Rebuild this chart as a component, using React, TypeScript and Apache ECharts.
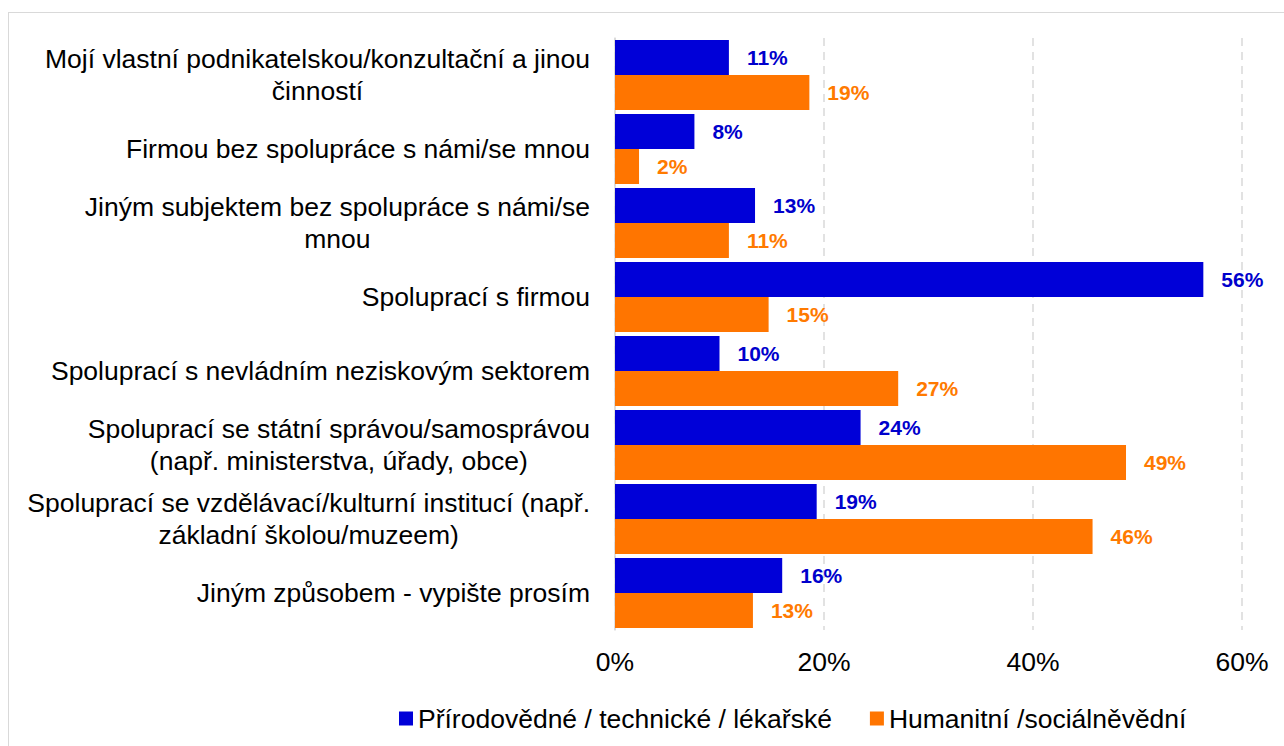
import React, { useEffect, useRef } from "react";
import * as echarts from "echarts";

const categories = [
  "Mojí vlastní podnikatelskou/konzultační a jinou\nčinností",
  "Firmou bez spolupráce s námi/se mnou",
  "Jiným subjektem bez spolupráce s námi/se\nmnou",
  "Spoluprací s firmou",
  "Spoluprací s nevládním neziskovým sektorem",
  "Spoluprací se státní správou/samosprávou\n(např. ministerstva, úřady, obce)",
  "Spoluprací se vzdělávací/kulturní institucí (např.\nzákladní školou/muzeem)",
  "Jiným způsobem - vypište prosím",
];

const seriesNames = [
  "Přírodovědné / technické / lékařské",
  "Humanitní /sociálněvědní",
];

const naturalValues = [10.9, 7.6, 13.4, 56.3, 10.0, 23.5, 19.3, 16.0];
const humanitiesValues = [18.6, 2.3, 10.9, 14.7, 27.1, 48.9, 45.7, 13.2];

const xTicks = { min: 0, max: 60, interval: 20 };

const BLUE = "#0000d8";
const ORANGE = "#ff7500";
const FONT = "'Liberation Sans', Arial, sans-serif";

export default function App() {
  const ref = useRef<HTMLDivElement>(null);

  useEffect(() => {
    document.body.style.overflow = "hidden";
    const chart = echarts.init(ref.current!, null, { renderer: "svg" });
    chart.setOption({
      animation: false,
      textStyle: { fontFamily: FONT },
      grid: { left: 615, right: 42, top: 38, bottom: 116, containLabel: false },
      legend: {
        left: 394,
        top: 700,
        itemWidth: 14,
        itemHeight: 14,
        itemGap: 38,
        icon: "rect",
        textStyle: { fontSize: 26.5, color: "#000", fontFamily: FONT },
        data: seriesNames,
      },
      xAxis: {
        type: "value",
        min: xTicks.min,
        max: xTicks.max,
        interval: xTicks.interval,
        axisLine: { show: false },
        axisTick: { show: false },
        axisLabel: {
          formatter: "{value}%",
          fontSize: 26.5,
          color: "#000",
          margin: 18,
          fontFamily: FONT,
        },
        splitLine: {
          show: true,
          lineStyle: { color: "#d9d9d9", width: 1.5, type: [8, 6] },
        },
      },
      yAxis: {
        type: "category",
        inverse: true,
        data: categories,
        axisLine: { show: true, lineStyle: { color: "#d9d9d9", width: 1.5 } },
        axisTick: { show: false },
        axisLabel: {
          margin: 25,
          formatter: (v: string) =>
            v
              .split("\n")
              .map((l) => `{c|${l}}`)
              .join("\n"),
          rich: {
            c: {
              fontSize: 26.5,
              lineHeight: 32,
              align: "center",
              color: "#000",
              fontFamily: FONT,
            },
          },
        },
      },
      series: [
        {
          name: seriesNames[0],
          type: "bar",
          data: naturalValues,
          barGap: "0%",
          barCategoryGap: "5.4%",
          itemStyle: { color: BLUE },
          label: {
            show: true,
            position: "right",
            distance: 18,
            formatter: (p: any) => `${Math.round(p.value)}%`,
            fontSize: 21,
            fontWeight: "bold",
            color: "#0000cc",
            fontFamily: FONT,
          },
        },
        {
          name: seriesNames[1],
          type: "bar",
          data: humanitiesValues,
          barGap: "0%",
          barCategoryGap: "5.4%",
          itemStyle: { color: ORANGE },
          label: {
            show: true,
            position: "right",
            distance: 18,
            formatter: (p: any) => `${Math.round(p.value)}%`,
            fontSize: 21,
            fontWeight: "bold",
            color: "#ff7a00",
            fontFamily: FONT,
          },
        },
      ],
    });
    return () => chart.dispose();
  }, []);

  return (
    <>
      <div
        style={{
          position: "fixed",
          left: 8,
          top: 12,
          width: 1400,
          height: 900,
          border: "1px solid #d9d9d9",
          boxSizing: "border-box",
          background: "#fff",
        }}
      />
      <div
        ref={ref}
        style={{ position: "fixed", left: 0, top: 0, width: 1284, height: 746 }}
      />
    </>
  );
}
